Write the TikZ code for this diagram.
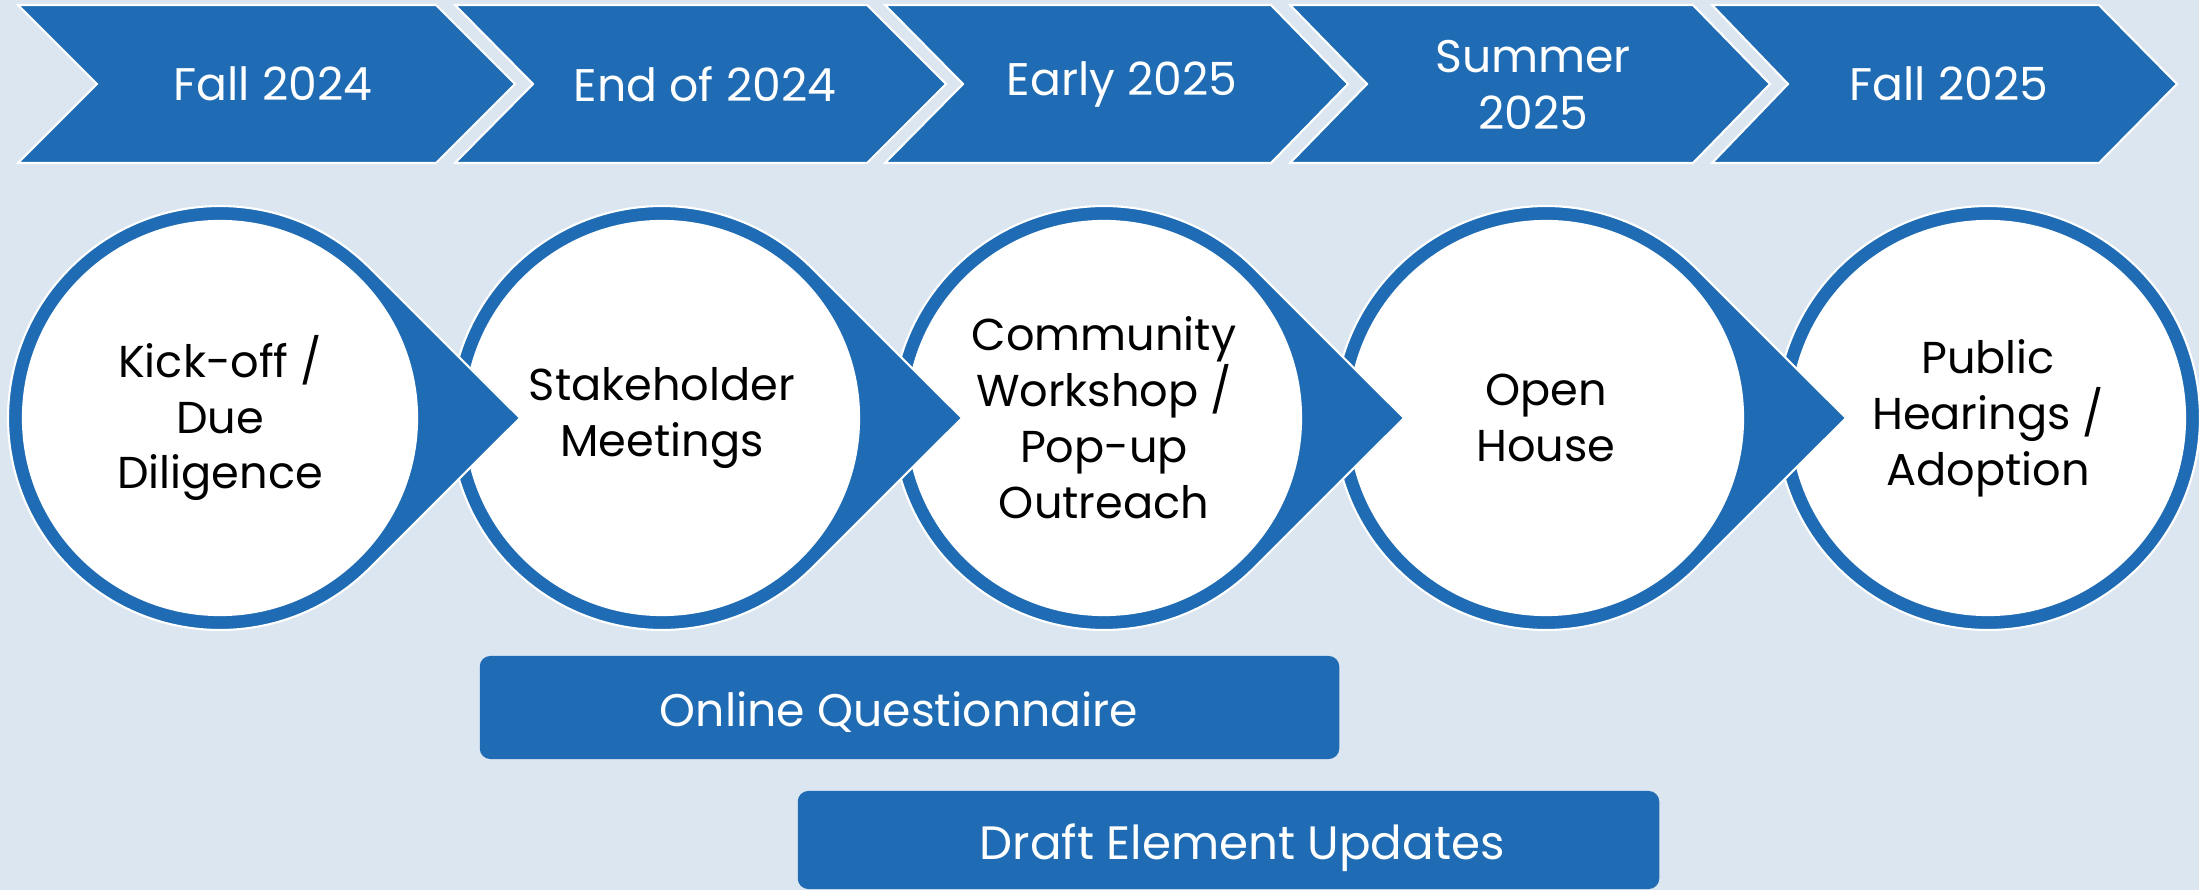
\documentclass[tikz,border=0pt]{standalone}
\usepackage{fontspec}
\setmainfont{Poppins}
\usepackage{tikz}
\definecolor{planblue}{RGB}{31,108,180}
\definecolor{planbg}{RGB}{220,230,241}

\begin{document}
\begin{tikzpicture}[x=0.01cm,y=0.01cm,
  chev/.style={fill=planblue,draw=white,line width=0.6pt,line join=miter},
  chevtext/.style={text=white,align=center,font=\fontsize{13}{16}\selectfont},
  stage/.style={fill=planblue,draw=white,line width=0.6pt},
  stagetext/.style={circle,fill=white,minimum size=3.96cm,inner sep=0pt,align=center,font=\fontsize{12.7}{15.9}\selectfont},
  bar/.style={fill=planblue,rounded corners=3pt,text=white,font=\fontsize{13}{16}\selectfont}]
  \fill[planbg] (0,0) rectangle (2199,890);
  \useasboundingbox (0,0) rectangle (2199,890);

  % timeline across the top
  \draw[chev] (18,885) -- (436,885) -- (515,806) -- (436,727) -- (18,727) -- (97,806) -- cycle;
  \draw[chev] (455,885) -- (867,885) -- (946,806) -- (867,727) -- (455,727) -- (533,806) -- cycle;
  \draw[chev] (885,885) -- (1271,885) -- (1348,806) -- (1271,727) -- (885,727) -- (963,806) -- cycle;
  \draw[chev] (1290,885) -- (1693,885) -- (1770,806) -- (1693,727) -- (1290,727) -- (1367,806) -- cycle;
  \draw[chev] (1712,885) -- (2099,885) -- (2177,806) -- (2099,727) -- (1712,727) -- (1788,806) -- cycle;
  \node[chevtext] (fall24) at (273,806) {Fall 2024};
  \node[chevtext] (end24) at (705,806) {End of 2024};
  \node[chevtext] (early25) at (1122,806) {Early 2025};
  \node[chevtext] (summer25) at (1533,805) {Summer\\2025};
  \node[chevtext] (fall25) at (1949,806) {Fall 2025};

  % stages, drawn right to left so each point lies over the next circle
  \coordinate (s1) at (220,472);
  \coordinate (s2) at (662,472);
  \coordinate (s3) at (1104,472);
  \coordinate (s4) at (1546,472);
  \coordinate (s5) at (1988,472);
  \draw[stage] (s5) circle[radius=212];
  \node[stagetext] (hearings) at (s5) {Public\\Hearings /\\Adoption};
  \draw[stage,shift={(s4)}] (45:212) arc[start angle=45,end angle=315,radius=212] -- (300,0) -- cycle;
  \node[stagetext] (openhouse) at (s4) {Open\\House};
  \draw[stage,shift={(s3)}] (45:212) arc[start angle=45,end angle=315,radius=212] -- (300,0) -- cycle;
  \node[stagetext] (workshop) at (s3) {Community\\Workshop /\\Pop-up\\Outreach};
  \draw[stage,shift={(s2)}] (45:212) arc[start angle=45,end angle=315,radius=212] -- (300,0) -- cycle;
  \node[stagetext] (stakeholder) at (s2) {Stakeholder\\Meetings};
  \draw[stage,shift={(s1)}] (45:212) arc[start angle=45,end angle=315,radius=212] -- (300,0) -- cycle;
  \node[stagetext] (kickoff) at (s1) {Kick-off /\\Due\\Diligence};

  % ongoing tasks
  \node[bar,minimum width=8.59cm,minimum height=1.03cm] (online) at (909.5,182.5) {};
  \node[text=white,font=\fontsize{13}{16}\selectfont] (onlinetext) at (899,178) {Online Questionnaire};
  \node[bar,minimum width=8.61cm,minimum height=0.98cm] (draft) at (1228.5,50) {};
  \node[text=white,font=\fontsize{13.3}{16}\selectfont] (drafttext) at (1242,42) {Draft Element Updates};
\end{tikzpicture}
\end{document}
